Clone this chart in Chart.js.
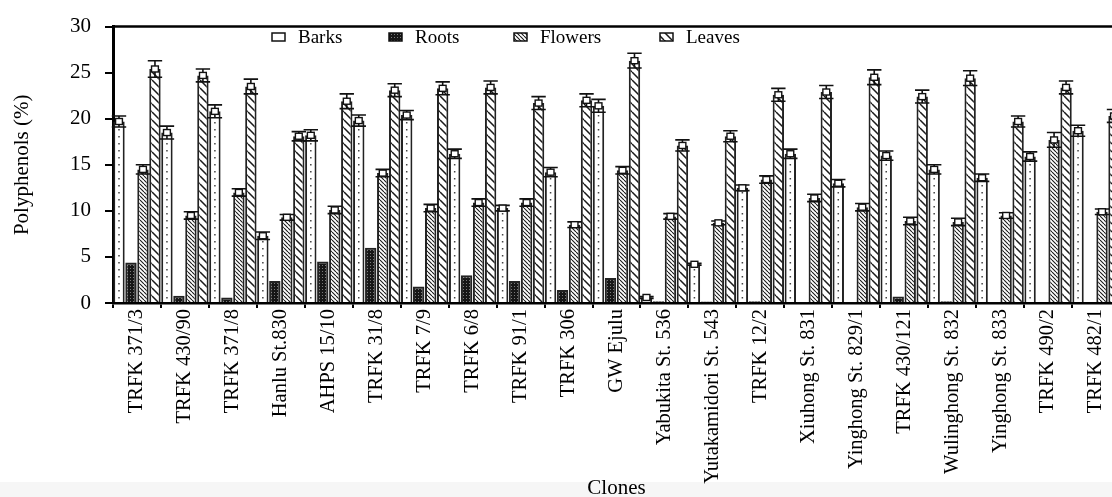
<!DOCTYPE html>
<html><head><meta charset="utf-8">
<script src="https://cdn.jsdelivr.net/npm/chart.js@4/dist/chart.umd.min.js"></script>
<style>
html,body{margin:0;padding:0;overflow:hidden;}
body{width:1112px;height:497px;background:linear-gradient(to bottom,#fff 0,#fff 482px,#f6f6f6 482px,#f6f6f6 100%);}
#wrap{position:absolute;left:0;top:0;width:1125px;height:505px;}
</style></head><body>
<div id="wrap"><canvas id="c"></canvas></div>
<script>
const categories = ['TRFK 371/3','TRFK 430/90','TRFK 371/8','Hanlu St.830','AHPS 15/10','TRFK 31/8','TRFK 7/9','TRFK 6/8','TRFK 91/1','TRFK 306','GW Ejulu','Yabukita St. 536','Yutakamidori St. 543','TRFK 12/2','Xiuhong St. 831','Yinghong St. 829/1','TRFK 430/121','Wulinghong St. 832','Yinghong St. 833','TRFK 490/2','TRFK 482/1'];
const barks   = [19.7,18.5,20.8,7.3,18.2,19.8,20.4,16.2,10.3,14.2,21.4,0.6,4.2,12.5,16.2,13.0,16.0,14.5,13.6,15.9,18.7];
const roots   = [4.4,0.8,0.6,2.4,4.5,6.0,1.8,3.0,2.4,1.4,2.7,0.2,0.15,0.2,0.05,0.05,0.7,0.2,0.05,0.1,0.1];
const flowers = [14.5,9.5,12.0,9.3,10.1,14.1,10.3,10.9,10.9,8.5,14.4,9.4,8.7,13.4,11.4,10.4,8.9,8.8,9.5,17.7,9.9];
const leaves  = [25.4,24.7,23.5,18.1,21.9,23.1,23.3,23.4,21.7,22.0,26.3,17.1,18.1,22.6,22.9,24.5,22.4,24.4,19.7,23.4,20.3];
const barksErr   = [0.6,0.7,0.7,0.4,0.6,0.6,0.5,0.5,0.3,0.5,0.7,0.1,0.1,0.3,0.5,0.4,0.5,0.5,0.4,0.5,0.6];
const flowersErr = [0.5,0.4,0.4,0.3,0.4,0.4,0.4,0.4,0.4,0.3,0.4,0.3,0.2,0.4,0.4,0.4,0.4,0.4,0.3,0.8,0.3];
const leavesErr  = [0.9,0.7,0.8,0.5,0.8,0.7,0.7,0.7,0.7,0.7,0.8,0.6,0.6,0.7,0.7,0.8,0.7,0.8,0.6,0.7,0.7];
const yTicks = [0,5,10,15,20,25,30];

function makePattern(kind){
  const c=document.createElement('canvas'); const g=c.getContext('2d');
  if(kind==='roots'){
    c.width=3;c.height=3; g.fillStyle='#161616'; g.fillRect(0,0,3,3);
    g.fillStyle='#7a7a7a'; g.fillRect(1,1,1,1);
  } else {
    const s = kind==='flowers'?4:8;
    c.width=s;c.height=s; g.fillStyle='#fff'; g.fillRect(0,0,s,s);
    g.strokeStyle='#1a1a1a'; g.lineWidth = kind==='flowers'?1.1:1.5;
    g.beginPath(); for(const x0 of [-s,0,s]){g.moveTo(x0,0);g.lineTo(x0+s,s);} g.stroke();
  }
  return g.createPattern(c,'repeat');
}
const FONT='Liberation Serif';

const framePlugin={id:'frame',beforeDatasetsDraw(chart){
  const {ctx,chartArea:a}=chart; ctx.save(); ctx.strokeStyle='#000'; ctx.lineWidth=2.5;
  ctx.beginPath(); ctx.moveTo(a.left,a.top); ctx.lineTo(a.right,a.top); ctx.stroke(); ctx.restore();
}};
const dotsPlugin={id:'dots',afterDatasetsDraw(chart){
  const ctx=chart.ctx;
  chart.data.datasets.forEach((ds,i)=>{
    if(ds.kind!=='barks')return;
    chart.getDatasetMeta(i).data.forEach(el=>{
      ctx.save(); ctx.fillStyle='#444';
      for(let yy=el.base-5; yy>el.y+4; yy-=7){ ctx.fillRect(el.x-0.75,yy,1.5,1.5); }
      ctx.restore();
    });
  });
}};
const errPlugin={id:'err',afterDatasetsDraw(chart){
  const ctx=chart.ctx, y=chart.scales.y;
  chart.data.datasets.forEach((ds,i)=>{
    if(!ds.errors)return;
    chart.getDatasetMeta(i).data.forEach((el,j)=>{
      const v=ds.data[j], e=ds.errors[j];
      const yt=y.getPixelForValue(v+e), yb=y.getPixelForValue(Math.max(0,v-e)), yv=y.getPixelForValue(v);
      const w=el.width, cw=w+3;
      ctx.save(); ctx.strokeStyle='#111'; ctx.lineWidth=1.6;
      ctx.beginPath(); ctx.moveTo(el.x,yt); ctx.lineTo(el.x,yb);
      ctx.moveTo(el.x-cw/2,yt); ctx.lineTo(el.x+cw/2,yt);
      ctx.moveTo(el.x-cw/2,yb); ctx.lineTo(el.x+cw/2,yb); ctx.stroke();
      const bw=Math.max(4,w*0.6), bh=6;
      ctx.fillStyle='#fff'; ctx.fillRect(el.x-bw/2,yv-bh/2,bw,bh);
      ctx.lineWidth=1.4; ctx.strokeRect(el.x-bw/2,yv-bh/2,bw,bh);
      ctx.restore();
    });
  });
}};
const legendPlugin={id:'customLegend',afterDraw(chart,args,opts){
  const ctx=chart.ctx; ctx.save();
  chart.data.datasets.forEach((ds,i)=>{
    const x=opts.xs[i], yc=opts.y;
    ctx.fillStyle=ds.backgroundColor; ctx.fillRect(x,yc-4,13,8);
    ctx.strokeStyle='#111'; ctx.lineWidth=1.5; ctx.strokeRect(x,yc-4,13,8);
    ctx.fillStyle='#000'; ctx.font='19px "'+FONT+'"'; ctx.textBaseline='middle'; ctx.textAlign='left';
    ctx.fillText(ds.label,x+26,yc+1);
  });
  ctx.restore();
}};

new Chart(document.getElementById('c'),{
  type:'bar',
  data:{labels:categories,datasets:[
    {label:'Barks',data:barks,kind:'barks',errors:barksErr,backgroundColor:'#fff'},
    {label:'Roots',data:roots,kind:'roots',backgroundColor:makePattern('roots')},
    {label:'Flowers',data:flowers,kind:'flowers',errors:flowersErr,backgroundColor:makePattern('flowers')},
    {label:'Leaves',data:leaves,kind:'leaves',errors:leavesErr,backgroundColor:makePattern('leaves')}
  ]},
  options:{
    responsive:true,maintainAspectRatio:false,animation:false,
    layout:{padding:{left:0,right:5,top:20,bottom:0}},
    datasets:{bar:{categoryPercentage:1,barPercentage:0.95,borderColor:'#222',borderWidth:2}},
    plugins:{legend:{display:false},tooltip:{enabled:false},
      customLegend:{xs:[272,389,514,660],y:37}},
    scales:{
      x:{offset:true,
        grid:{display:true,drawOnChartArea:false,drawTicks:true,tickLength:5,color:'#000',lineWidth:2,offset:true},
        border:{display:true,color:'#000',width:2.5},
        ticks:{autoSkip:false,maxRotation:90,minRotation:90,padding:1,color:'#000',font:{family:FONT,size:20.5}},
        title:{display:true,text:'Clones',color:'#000',font:{family:FONT,size:21},padding:{top:0,bottom:4}},
        afterFit(s){s.height=202;}},
      y:{min:0,max:30,
        afterBuildTicks(s){s.ticks=yTicks.map(v=>({value:v}));},
        ticks:{padding:14,color:'#000',font:{family:FONT,size:21}},
        grid:{drawOnChartArea:false,drawTicks:true,tickLength:8,color:'#000',lineWidth:2},
        border:{display:true,color:'#000',width:3},
        title:{display:true,text:'Polyphenols (%)',color:'#000',font:{family:FONT,size:21},padding:{top:10,bottom:0}},
        afterFit(s){s.width=113;}}
    }
  },
  plugins:[framePlugin,dotsPlugin,errPlugin,legendPlugin]
});
</script>
</body></html>
